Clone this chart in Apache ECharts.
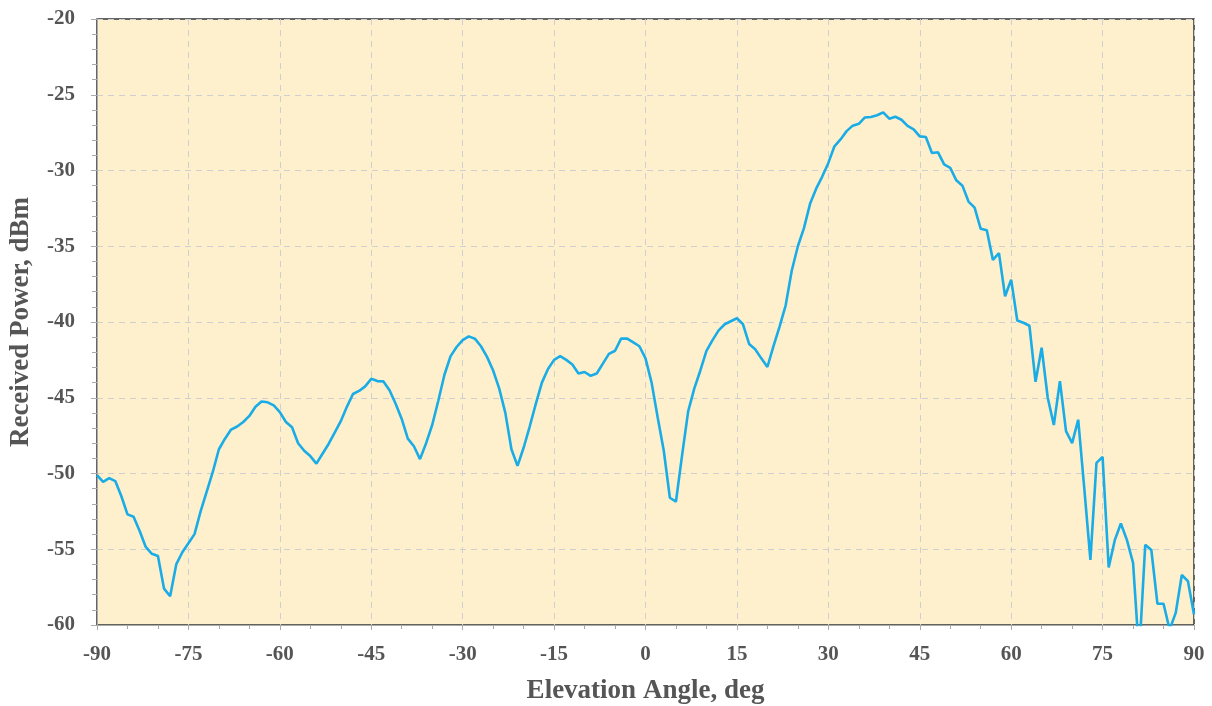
<!DOCTYPE html>
<html>
<head>
<meta charset="utf-8">
<script src="https://cdn.jsdelivr.net/npm/echarts@6/dist/echarts.min.js"></script>
<style>
html,body{margin:0;padding:0;background:#fff;}
#chart{width:1212px;height:706px;}
</style>
</head>
<body>
<div id="chart"></div>
<script>
// Elevation angles (deg), 1-degree steps
const angles = [];
for (let a = -90; a <= 90; a++) angles.push(a);

// Received power (dBm)
const powerNeg = [
  -50.1, -50.55, -50.3, -50.5, -51.5, -52.7, -52.85, -53.8, -54.85, -55.3,   // -90..-81
  -55.45, -57.6, -58.1, -56.0, -55.2, -54.6, -54.0, -52.5, -51.2, -49.9,     // -80..-71
  -48.4, -47.7, -47.1, -46.9, -46.6, -46.2, -45.6, -45.25, -45.3, -45.5,     // -70..-61
  -45.95, -46.6, -46.95, -48.0, -48.5, -48.85, -49.35, -48.7, -48.05, -47.3, // -60..-51
  -46.55, -45.6, -44.75, -44.55, -44.25, -43.75, -43.9, -43.92, -44.5, -45.4,// -50..-41
  -46.4, -47.7, -48.2, -49.05, -48.0, -46.8, -45.2, -43.5, -42.27, -41.65,   // -40..-31
  -41.2, -40.95, -41.1, -41.6, -42.3, -43.2, -44.4, -46.0, -48.4, -49.5,     // -30..-21
  -48.3, -46.9, -45.4, -44.0, -43.1, -42.5, -42.25, -42.5, -42.8, -43.4,     // -20..-11
  -43.3, -43.55, -43.4, -42.75, -42.1, -41.9, -41.1, -41.1, -41.35, -41.6    // -10..-1
];
const powerPos = [
  -42.4,                                                                      // 0
  -44.0, -46.3, -48.5, -51.6, -51.85, -48.8, -45.9, -44.4, -43.2, -41.9,     // 1..10
  -41.2, -40.55, -40.15, -39.95, -39.75, -40.15, -41.45, -41.8, -42.4, -42.97,// 11..20
  -41.6, -40.3, -38.9, -36.6, -35.0, -33.8, -32.2, -31.2, -30.4, -29.5,      // 21..30
  -28.4, -27.95, -27.4, -27.04, -26.92, -26.5, -26.47, -26.35, -26.16, -26.58,// 31..40
  -26.45, -26.65, -27.05, -27.28, -27.75, -27.79, -28.84, -28.8, -29.6, -29.82,// 41..50
  -30.65, -31.0, -32.05, -32.45, -33.85, -33.95, -35.9, -35.45, -38.3, -37.2, // 51..60
  -39.9, -40.05, -40.25, -43.95, -41.7, -45.0, -46.8, -43.9, -47.2, -48.0,   // 61..70
  -46.45, -51.0, -55.7, -49.3, -48.9, -56.2, -54.4, -53.3, -54.4, -55.9,     // 71..80
  -62.0, -54.7, -55.05, -58.6, -58.6, -60.3, -59.2, -56.7, -57.1, -59.3      // 81..90
];
const power = powerNeg.concat(powerPos);

const xTicks = [-90, -75, -60, -45, -30, -15, 0, 15, 30, 45, 60, 75, 90];
const yTicks = [-60, -55, -50, -45, -40, -35, -30, -25, -20];

const xName = 'Elevation Angle, deg';
const yName = 'Received Power, dBm';

const data = angles.map((a, i) => [a, power[i]]);

const chart = echarts.init(document.getElementById('chart'), null, {renderer: 'canvas'});
const fontFam = '"Liberation Serif", "Times New Roman", serif';
const labelStyle = {color: '#555', fontFamily: fontFam, fontWeight: 'bold', fontSize: 21};
const nameStyle = {color: '#555', fontFamily: fontFam, fontWeight: 'bold', fontSize: 27};

chart.setOption({
  animation: false,
  backgroundColor: '#ffffff',
  grid: {
    left: 97, right: 18, top: 19, bottom: 81,
    outerBoundsMode: 'none',
    containLabel: false,
    show: true,
    backgroundColor: '#FEF0CD',
    borderColor: '#333',
    borderWidth: 1.5
  },
  xAxis: {
    type: 'value',
    min: xTicks[0], max: xTicks[xTicks.length - 1], interval: 15,
    name: xName,
    nameLocation: 'middle',
    nameGap: 53,
    nameTextStyle: nameStyle,
    axisLine: {show: true, onZero: false, lineStyle: {color: '#aaa', width: 1}},
    axisTick: {show: true, length: 5, lineStyle: {color: '#aaa'}},
    minorTick: {show: true, splitNumber: 3, length: 4, lineStyle: {color: '#aaa'}},
    axisLabel: Object.assign({margin: 19}, labelStyle),
    splitLine: {show: true, lineStyle: {color: '#cfcfcf', type: [6, 5], width: 1}}
  },
  yAxis: {
    type: 'value',
    min: yTicks[0], max: yTicks[yTicks.length - 1], interval: 5,
    name: yName,
    nameLocation: 'middle',
    nameGap: 62,
    nameRotate: 90,
    nameTextStyle: nameStyle,
    axisLine: {show: true, onZero: false, lineStyle: {color: '#aaa', width: 1}},
    axisTick: {show: true, length: 6, lineStyle: {color: '#aaa'}},
    minorTick: {show: true, splitNumber: 5, length: 5, lineStyle: {color: '#aaa'}},
    axisLabel: Object.assign({margin: 22}, labelStyle),
    splitLine: {show: true, lineStyle: {color: '#cfcfcf', type: [6, 5], width: 1}}
  },
  series: [{
    type: 'line',
    data: data,
    showSymbol: false,
    clip: true,
    lineStyle: {color: '#1AACE6', width: 2.6},
    itemStyle: {color: '#1AACE6'}
  }]
});
</script>
</body>
</html>
